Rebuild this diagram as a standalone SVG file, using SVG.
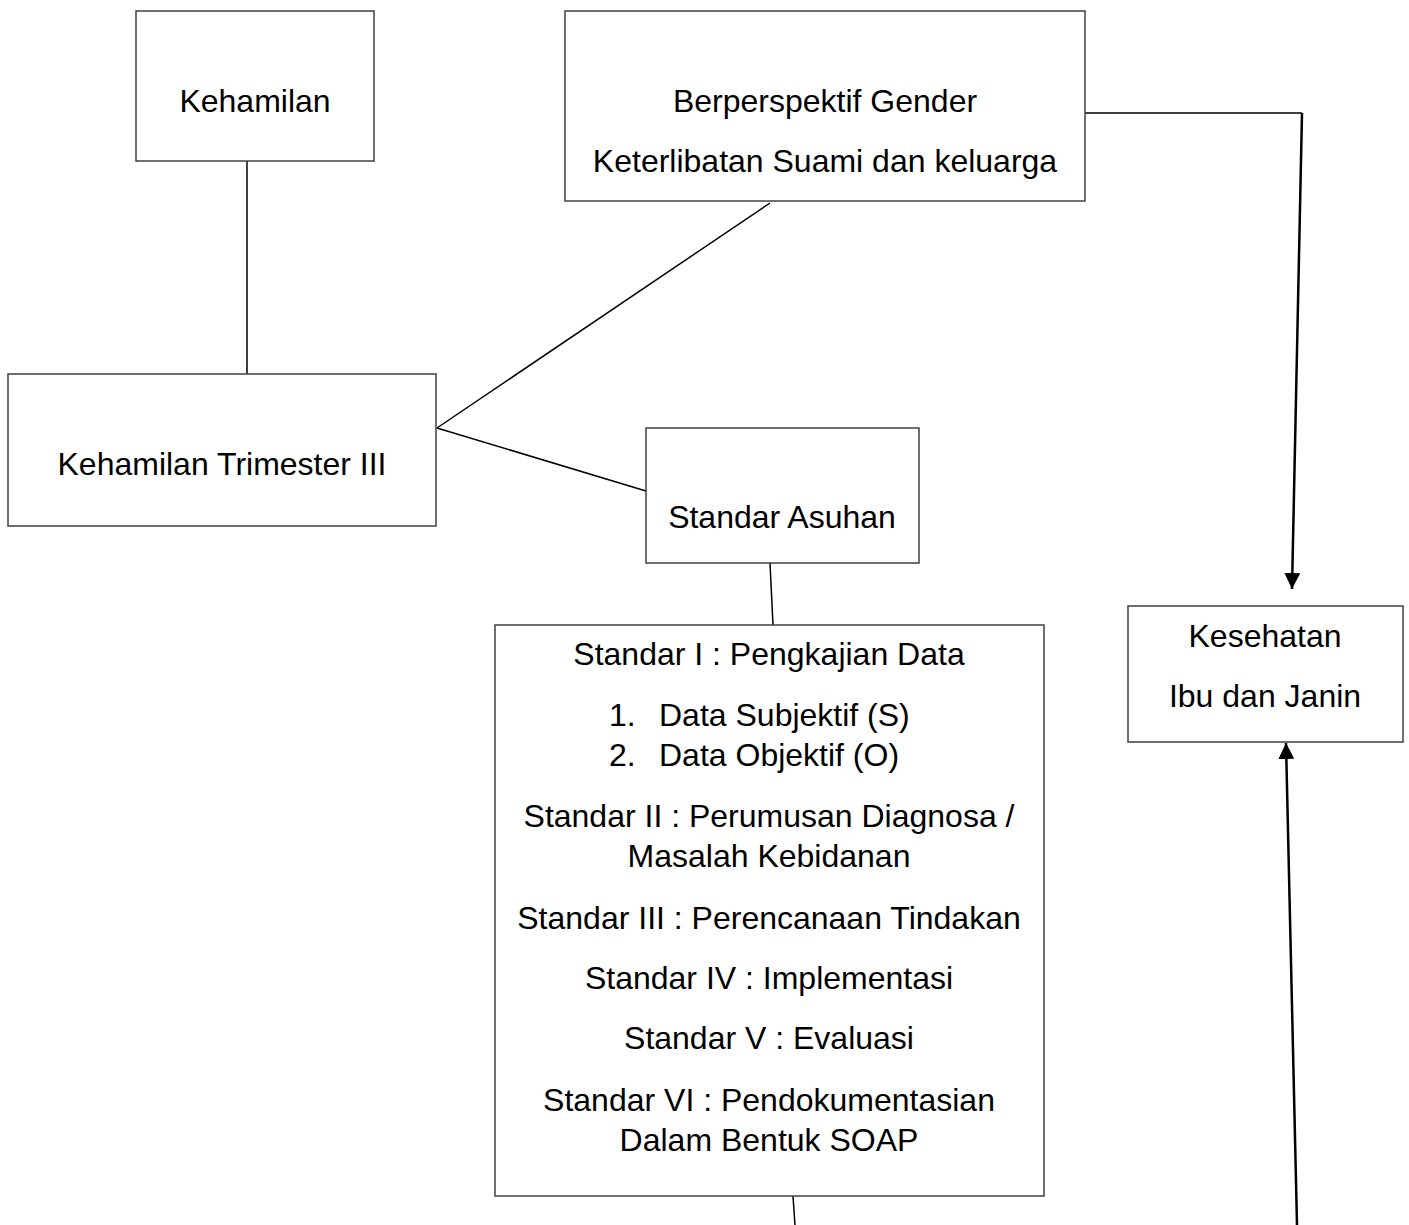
<svg xmlns="http://www.w3.org/2000/svg" width="1409" height="1225" viewBox="0 0 1409 1225">
<style>
.box{fill:#fff;stroke:#404040;stroke-width:1.5}
.t{font-family:"Liberation Sans",Arial,sans-serif;font-size:32px;fill:#000;text-anchor:middle}
.ts{font-family:"Liberation Sans",Arial,sans-serif;font-size:32px;fill:#000}
.c{stroke:#000;stroke-width:1.5;fill:none}
.a{stroke:#000;stroke-width:2.5;fill:none}
</style>
<defs>
<marker id="ah" viewBox="0 0 10 10" refX="10" refY="5" markerWidth="16" markerHeight="16" markerUnits="userSpaceOnUse" orient="auto">
<path d="M0,0 L10,5 L0,10 z" fill="#000"/>
</marker>
</defs>
<g id="connectors">
<line class="c" x1="247" y1="161" x2="247" y2="374"/>
<line class="c" x1="437" y1="428" x2="770" y2="203"/>
<line class="c" x1="437" y1="428" x2="646" y2="491"/>
<line class="c" x1="770" y1="563" x2="773" y2="625"/>
<line class="c" x1="793" y1="1196" x2="795" y2="1225"/>
<polyline class="c" points="1085,113 1302,113"/>
<line class="a" x1="1302" y1="113" x2="1292" y2="589" marker-end="url(#ah)"/>
<line class="a" x1="1297" y1="1225" x2="1286" y2="743" marker-end="url(#ah)"/>
</g>
<g id="kehamilan">
<rect class="box" x="136" y="11" width="238" height="150"/>
<text class="t" x="255" y="112">Kehamilan</text>
</g>
<g id="gender">
<rect class="box" x="565" y="11" width="520" height="190"/>
<text class="t" x="825" y="112">Berperspektif Gender</text>
<text class="t" x="825" y="172">Keterlibatan Suami dan keluarga</text>
</g>
<g id="trimester">
<rect class="box" x="8" y="374" width="428" height="152"/>
<text class="t" x="222" y="475">Kehamilan Trimester III</text>
</g>
<g id="asuhan">
<rect class="box" x="646" y="428" width="273" height="135"/>
<text class="t" x="782" y="528">Standar Asuhan</text>
</g>
<g id="standar">
<rect class="box" x="495" y="625" width="549" height="571"/>
<text class="t" x="769" y="665">Standar I : Pengkajian Data</text>
<text class="ts" x="609" y="726">1.</text>
<text class="ts" x="659" y="726">Data Subjektif (S)</text>
<text class="ts" x="609" y="766">2.</text>
<text class="ts" x="659" y="766">Data Objektif (O)</text>
<text class="t" x="769" y="827">Standar II : Perumusan Diagnosa /</text>
<text class="t" x="769" y="867">Masalah Kebidanan</text>
<text class="t" x="769" y="929">Standar III : Perencanaan Tindakan</text>
<text class="t" x="769" y="989">Standar IV : Implementasi</text>
<text class="t" x="769" y="1049">Standar V : Evaluasi</text>
<text class="t" x="769" y="1111">Standar VI : Pendokumentasian</text>
<text class="t" x="769" y="1151">Dalam Bentuk SOAP</text>
</g>
<g id="kesehatan">
<rect class="box" x="1128" y="606" width="275" height="136"/>
<text class="t" x="1265" y="647">Kesehatan</text>
<text class="t" x="1265" y="707">Ibu dan Janin</text>
</g>
</svg>
